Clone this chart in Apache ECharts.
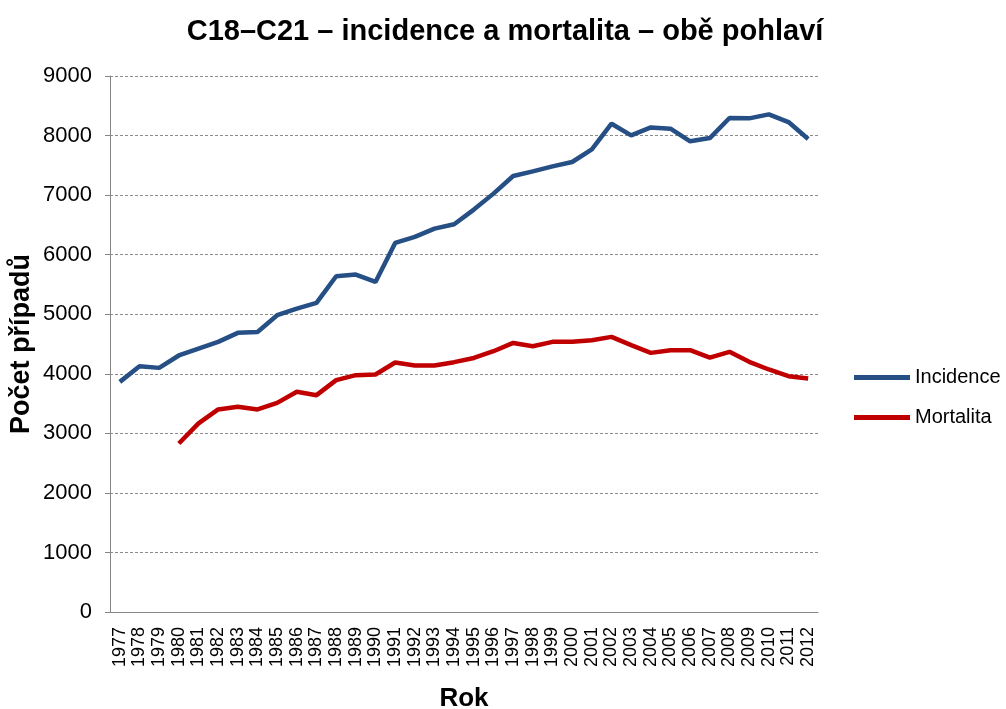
<!DOCTYPE html>
<html><head><meta charset="utf-8">
<script src="https://cdn.jsdelivr.net/npm/echarts@6/dist/echarts.min.js"></script>
<style>html,body{margin:0;padding:0;background:#fff}#c{width:1006px;height:709px}</style>
</head><body><div id="c"></div>
<script>
const years = ['1977','1978','1979','1980','1981','1982','1983','1984','1985','1986','1987','1988','1989','1990','1991','1992','1993','1994','1995','1996','1997','1998','1999','2000','2001','2002','2003','2004','2005','2006','2007','2008','2009','2010','2011','2012'];
const incidence = [3864,4128,4099,4307,4424,4536,4687,4703,4983,5095,5190,5638,5666,5542,6197,6298,6437,6510,6757,7025,7321,7399,7483,7556,7768,8199,8003,8137,8115,7903,7958,8294,8289,8356,8227,7942];
const mortalita = [null,null,null,2830,3166,3401,3445,3401,3512,3697,3641,3893,3977,3988,4189,4139,4139,4195,4265,4379,4518,4463,4536,4536,4564,4620,4480,4351,4396,4396,4270,4368,4200,4072,3960,3921];
const yTicks = [0,1000,2000,3000,4000,5000,6000,7000,8000,9000];

const chart = echarts.init(document.getElementById('c'), null, {renderer:'canvas'});
const F = 'Liberation Sans, Arial, sans-serif';
chart.setOption({
  animation:false,
  backgroundColor:'#fff',
  title:{text:'C18–C21 – incidence a mortalita – obě pohlaví',left:500,top:12,textAlign:'center',
    textStyle:{fontFamily:F,fontSize:29,fontWeight:'bold',color:'#000'}},
  legend:{orient:'vertical',left:854,top:367,itemWidth:56,itemHeight:5,itemGap:19,icon:'rect',
    padding:0,
    textStyle:{fontFamily:F,fontSize:20,lineHeight:21,color:'#000'},
    data:['Incidence','Mortalita']},
  grid:{left:110,right:188,top:76,bottom:97,containLabel:false,outerBoundsMode:'none'},
  xAxis:{type:'category',data:years,boundaryGap:true,
    name:'Rok',nameLocation:'middle',nameGap:74,nameMoveOverlap:false,
    nameTextStyle:{fontFamily:F,fontSize:26,fontWeight:'bold',color:'#000'},
    axisLine:{lineStyle:{color:'#868686',width:1}},
    axisTick:{show:false},
    axisLabel:{rotate:90,interval:0,fontFamily:F,fontSize:18,color:'#000',margin:15}},
  yAxis:{type:'value',min:0,max:9000,interval:1000,
    name:'Počet případů',nameLocation:'middle',nameGap:75,nameMoveOverlap:false,
    nameTextStyle:{fontFamily:F,fontSize:27,fontWeight:'bold',color:'#000'},
    axisLine:{show:true,lineStyle:{color:'#868686',width:1}},
    axisTick:{show:true,length:5,lineStyle:{color:'#868686'}},
    axisLabel:{fontFamily:F,fontSize:22,color:'#000',margin:18,
      formatter:v=>yTicks.includes(v)?String(v):''},
    splitLine:{show:true,lineStyle:{color:'#8c8c8c',type:[3,2],width:1}}},
  series:[
    {name:'Incidence',type:'line',data:incidence,symbol:'none',
      lineStyle:{color:'#254F85',width:4.5},itemStyle:{color:'#254F85'}},
    {name:'Mortalita',type:'line',data:mortalita,symbol:'none',connectNulls:false,
      lineStyle:{color:'#C00000',width:4.5},itemStyle:{color:'#C00000'}}
  ]
});
</script></body></html>
